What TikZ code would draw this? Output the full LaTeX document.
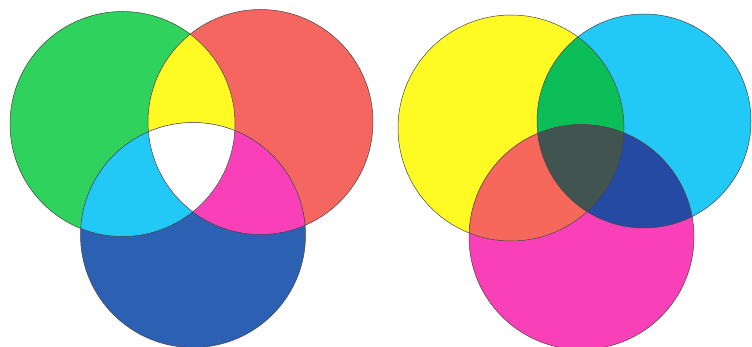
\documentclass[tikz,border=0pt]{standalone}
\definecolor{cgreen}{RGB}{46,210,92}
\definecolor{cred}{RGB}{246,102,96}
\definecolor{cblue}{RGB}{44,96,178}
\definecolor{cyel}{RGB}{255,250,36}
\definecolor{ccyan}{RGB}{34,200,246}
\definecolor{cmag}{RGB}{250,64,184}
\definecolor{cgreen2}{RGB}{12,190,88}
\definecolor{cred2}{RGB}{246,104,92}
\definecolor{cdblue}{RGB}{36,74,164}
\definecolor{cdark}{RGB}{66,84,80}
\definecolor{cline}{RGB}{70,70,70}
\tikzset{ring/.style={draw=cline,line width=0.5pt}}
\begin{document}
\begin{tikzpicture}[x=1pt,y=-1pt]
\useasboundingbox (0,0) rectangle (752,347);
\fill[white] (0,0) rectangle (752,347);
% ---------- left: additive ----------
\coordinate (G) at (122.5,124);
\coordinate (R) at (260.5,122);
\coordinate (B) at (193,235);
\def\rL{112.5}
\fill[cgreen] (G) circle (\rL);
\fill[cred] (R) circle (\rL);
\fill[cblue] (B) circle (\rL);
\begin{scope}\clip (G) circle (\rL); \fill[cyel] (R) circle (\rL); \end{scope}
\begin{scope}\clip (G) circle (\rL); \fill[ccyan] (B) circle (\rL); \end{scope}
\begin{scope}\clip (R) circle (\rL); \fill[cmag] (B) circle (\rL); \end{scope}
\begin{scope}\clip (G) circle (\rL); \clip (R) circle (\rL); \fill[white] (B) circle (\rL); \end{scope}
\draw[ring] (G) circle (\rL);
\draw[ring] (R) circle (\rL);
\draw[ring] (B) circle (\rL);
% ---------- right: subtractive ----------
\coordinate (Y) at (511,128);
\coordinate (C) at (644,121);
\coordinate (M) at (581.5,237);
\fill[cyel] (Y) circle (113);
\fill[ccyan] (C) circle (107);
\fill[cmag] (M) circle (112.5);
\begin{scope}\clip (Y) circle (113); \fill[cgreen2] (C) circle (107); \end{scope}
\begin{scope}\clip (Y) circle (113); \fill[cred2] (M) circle (112.5); \end{scope}
\begin{scope}\clip (C) circle (107); \fill[cdblue] (M) circle (112.5); \end{scope}
\begin{scope}\clip (Y) circle (113); \clip (C) circle (107); \fill[cdark] (M) circle (112.5); \end{scope}
\draw[ring] (Y) circle (113);
\draw[ring] (C) circle (107);
\draw[ring] (M) circle (112.5);
\end{tikzpicture}
\end{document}
